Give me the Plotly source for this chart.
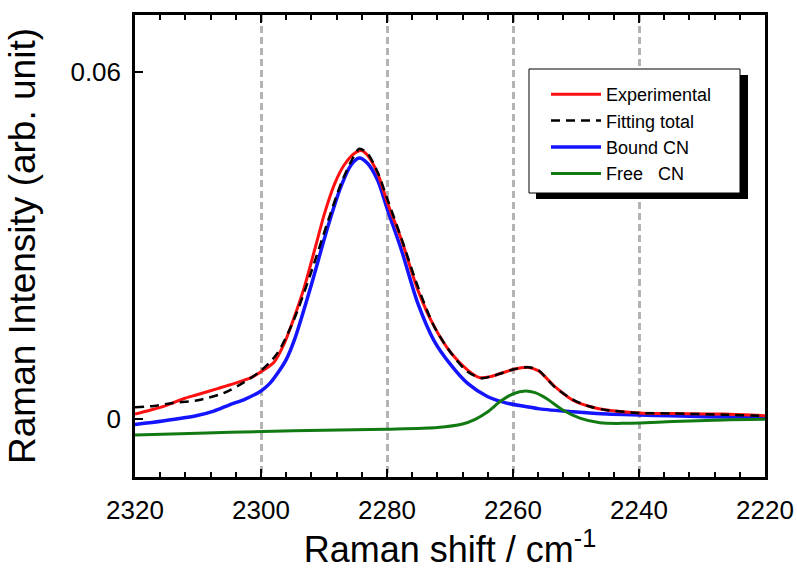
import plotly.graph_objects as go

# ---- data ----
exp_x = [2320, 2317.5, 2314.8, 2312.2, 2310.3, 2306.9, 2304.2, 2301.6, 2300, 2297.9, 2296.3,
         2294.7, 2293.1, 2291.5, 2289.9, 2288.3, 2286.8, 2285.2, 2284.1, 2283.1, 2281.5,
         2279.9, 2277.7, 2275.1, 2272.5, 2269.8, 2267.2, 2265.3, 2263.5, 2262, 2260,
         2257.8, 2256, 2253.3, 2250.5, 2247.8, 2245.2, 2240, 2234.6, 2226.6, 2220]
exp_y = [0.0009, 0.0016, 0.0025, 0.0036, 0.0042, 0.0053, 0.0062, 0.0072, 0.0082, 0.0099, 0.0131,
         0.0177, 0.0229, 0.0292, 0.0356, 0.0407, 0.0439, 0.0459, 0.0464, 0.0456, 0.0425,
         0.0373, 0.0310, 0.0223, 0.0160, 0.0114, 0.0085, 0.0072, 0.0074, 0.0079, 0.0086,
         0.0090, 0.0084, 0.0056, 0.0033, 0.0022, 0.0016, 0.0011, 0.0010, 0.0009, 0.0006]

fit_x = [2320, 2317, 2314, 2310, 2306, 2303, 2300, 2297.4, 2294.7, 2292.1, 2289.4, 2287.3,
         2285.7, 2284.4, 2283.1, 2281.5, 2279.9, 2277.7, 2275.1, 2272.5, 2269.8, 2267.2,
         2265, 2262.9, 2260, 2257.6, 2256, 2253.4, 2250.5, 2247.8, 2245.2, 2240, 2234.6,
         2226.6, 2220]
fit_y = [0.0021, 0.0023, 0.0028, 0.0033, 0.0045, 0.0062, 0.0084, 0.0114, 0.0174, 0.0252, 0.0341, 0.0407,
         0.0445, 0.0467, 0.0459, 0.0427, 0.0379, 0.0312, 0.0229, 0.0160, 0.0114, 0.0082,
         0.0071, 0.0076, 0.0086, 0.0090, 0.0085, 0.0056, 0.0034, 0.0022, 0.0016, 0.0011, 0.0010,
         0.0008, 0.0006]

bound_x = [2320, 2315.6, 2310.3, 2307.5, 2305, 2302.5, 2300, 2298.6, 2297.4, 2296, 2294.7, 2292.1,
           2289.4, 2287.3, 2285.7, 2284.4, 2283.1, 2281.5, 2279.9, 2277.7, 2275.1, 2272.5,
           2269.8, 2267.2, 2264, 2261, 2258, 2255.8, 2250.5, 2245, 2240, 2235, 2229.3, 2220]
bound_y = [-0.0009, -0.0003, 0.0006, 0.0014, 0.0025, 0.0035, 0.0049, 0.0062, 0.0079, 0.0103, 0.0137, 0.0229,
           0.0332, 0.0402, 0.0439, 0.0451, 0.0442, 0.0413, 0.0361, 0.0292, 0.0200, 0.0135,
           0.0093, 0.0062, 0.0039, 0.0028, 0.0022, 0.0018, 0.0013, 0.0009, 0.00074, 0.0006, 0.00045, 0.00034]

free_x = [2320, 2310, 2299.7, 2290, 2280.1, 2272, 2268, 2266, 2264, 2262, 2260, 2258,
          2256.5, 2254.7, 2252.1, 2249.4, 2246.2, 2242.5, 2234.6, 2226.6, 2220]
free_y = [-0.0027, -0.0024, -0.0021, -0.0019, -0.0017, -0.0014, -0.0008, 0.0000, 0.0013, 0.0031,
          0.0044, 0.0049, 0.0046, 0.0036, 0.0016, 0.0002, -0.0006, -0.0007, -0.0004, -0.0001, 0.0]

x_ticks = [2320, 2300, 2280, 2260, 2240, 2220]
y_ticks = [0, 0.06]
y_tick_text = ["0", "0.06"]

FONT = "Arial, Liberation Sans, sans-serif"

fig = go.Figure()
fig.add_trace(go.Scatter(x=bound_x, y=bound_y, mode="lines", name="Bound CN", legendrank=3,
                         line=dict(color="#1414ff", width=3.5, shape="spline", smoothing=0.8)))
fig.add_trace(go.Scatter(x=free_x, y=free_y, mode="lines", name="Free   CN", legendrank=4,
                         line=dict(color="#127a12", width=3, shape="spline", smoothing=0.8)))
fig.add_trace(go.Scatter(x=exp_x, y=exp_y, mode="lines", name="Experimental", legendrank=1,
                         line=dict(color="#ff1010", width=3, shape="spline", smoothing=0.8)))
fig.add_trace(go.Scatter(x=fit_x, y=fit_y, mode="lines", name="Fitting total", legendrank=2,
                         line=dict(color="black", width=2.5, dash="9px,6px", shape="spline", smoothing=0.8)))

L, R, T, B = 135, 32, 15, 93
W, H = 797, 570
pw, ph = W - L - R, H - T - B

def px(xp):
    return (xp - L) / pw

def py(yp):
    return (H - B - yp) / ph

# legend box with drop shadow
fig.add_shape(type="rect", xref="paper", yref="paper", x0=px(536), x1=px(748), y0=py(199), y1=py(75),
              fillcolor="black", line=dict(width=0), layer="above")
fig.add_shape(type="rect", xref="paper", yref="paper", x0=px(529), x1=px(740), y0=py(193), y1=py(69),
              fillcolor="white", line=dict(color="black", width=1), layer="above")

fig.update_layout(
    width=W, height=H,
    margin=dict(l=L, r=R, t=T, b=B, autoexpand=False),
    paper_bgcolor="white", plot_bgcolor="white",
    font=dict(family=FONT, color="black"),
    showlegend=True,
    legend=dict(x=px(546), y=py(76), xanchor="left", yanchor="top",
                bgcolor="rgba(0,0,0,0)", borderwidth=0,
                font=dict(size=18, family=FONT, color="black"),
                itemwidth=50, tracegroupgap=0),
    xaxis=dict(range=[2320, 2220], tickvals=x_ticks, ticks="inside", ticklen=8, tickwidth=2,
               tickcolor="black", mirror="ticks", showline=True, linecolor="black", linewidth=2.5,
               tickfont=dict(size=26, family=FONT), zeroline=False, automargin=False,
               ticklabelstandoff=8,
               showgrid=True, gridcolor="#b4b4b4", gridwidth=2.5, griddash="7px,4px",
               minor=dict(dtick=4, ticks="inside", ticklen=5, tickwidth=2, tickcolor="black", showgrid=False),
               title=dict(text="Raman shift / cm<sup>-1</sup>", font=dict(size=36, family=FONT), standoff=14)),
    yaxis=dict(range=[-0.00996, 0.0698], tickvals=y_ticks, ticktext=y_tick_text, ticks="inside", ticklen=8,
               tickwidth=2, tickcolor="black", mirror=True, showline=True, linecolor="black", linewidth=2.5,
               tickfont=dict(size=26, family=FONT), zeroline=False, showgrid=False, automargin=False,
               ticklabelstandoff=6,
               title=dict(text="Raman Intensity (arb. unit)", font=dict(size=37, family=FONT), standoff=24)),
)

fig.write_html("out.html")
